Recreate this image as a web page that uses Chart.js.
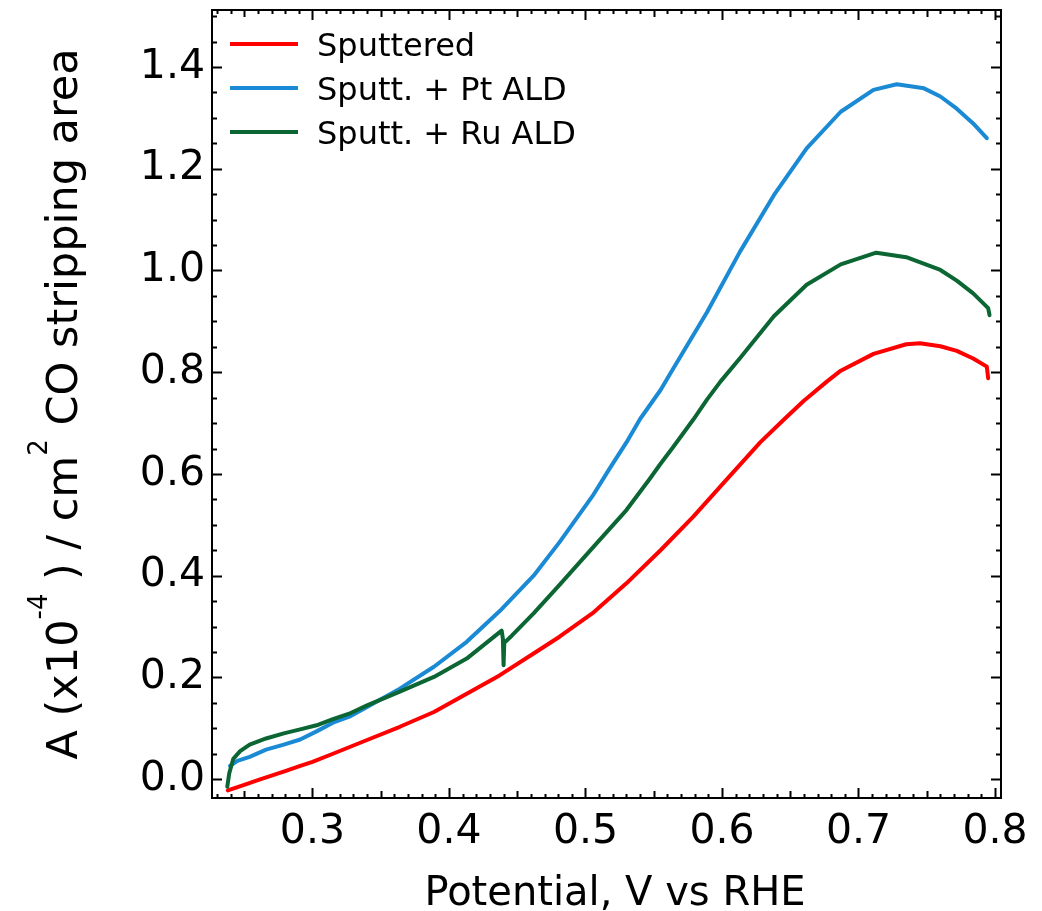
<!DOCTYPE html>
<html>
<head>
<meta charset="utf-8">
<script src="https://cdn.jsdelivr.net/npm/chart.js@4.4.1/dist/chart.umd.min.js"></script>
<style>
  html, body { margin: 0; padding: 0; background: #fff; }
  #wrap { width: 1042px; height: 911px; }
</style>
</head>
<body>
<div id="wrap"><canvas id="grafico"></canvas></div>
<script>
// CO stripping area vs potential

// Sputtered
const sputX = [0.238, 0.25, 0.26, 0.27, 0.28, 0.29, 0.30, 0.315, 0.34, 0.364, 0.389, 0.413, 0.437, 0.462, 0.481, 0.506, 0.530, 0.555, 0.579, 0.603, 0.628, 0.645, 0.66, 0.677, 0.687, 0.711, 0.735, 0.745, 0.760, 0.772, 0.784, 0.794, 0.795];
const sputY = [-0.022, -0.011, -0.002, 0.007, 0.016, 0.025, 0.034, 0.050, 0.077, 0.103, 0.132, 0.168, 0.204, 0.247, 0.280, 0.328, 0.385, 0.450, 0.516, 0.588, 0.662, 0.706, 0.744, 0.782, 0.803, 0.836, 0.855, 0.857, 0.851, 0.842, 0.827, 0.811, 0.788];

// Sputt. + Pt ALD
const ptX = [0.2396, 0.245, 0.254, 0.266, 0.279, 0.291, 0.303, 0.315, 0.328, 0.340, 0.364, 0.389, 0.413, 0.437, 0.462, 0.481, 0.506, 0.518, 0.530, 0.540, 0.555, 0.564, 0.589, 0.613, 0.638, 0.662, 0.687, 0.711, 0.728, 0.748, 0.760, 0.772, 0.784, 0.794];
const ptY = [0.026, 0.036, 0.044, 0.058, 0.068, 0.078, 0.094, 0.111, 0.124, 0.142, 0.178, 0.221, 0.270, 0.330, 0.400, 0.466, 0.560, 0.612, 0.662, 0.708, 0.765, 0.806, 0.918, 1.036, 1.148, 1.240, 1.312, 1.355, 1.366, 1.358, 1.342, 1.318, 1.289, 1.260];

// Sputt. + Ru ALD
const ruX = [0.2376, 0.239, 0.242, 0.247, 0.254, 0.266, 0.279, 0.291, 0.303, 0.315, 0.328, 0.340, 0.364, 0.389, 0.413, 0.4386, 0.4395, 0.4400, 0.4405, 0.446, 0.462, 0.481, 0.506, 0.530, 0.547, 0.555, 0.564, 0.579, 0.589, 0.599, 0.613, 0.638, 0.662, 0.687, 0.713, 0.735, 0.760, 0.772, 0.784, 0.795, 0.796];
const ruY = [-0.015, 0.011, 0.040, 0.055, 0.068, 0.080, 0.090, 0.098, 0.106, 0.118, 0.130, 0.145, 0.172, 0.201, 0.237, 0.292, 0.276, 0.224, 0.268, 0.282, 0.326, 0.382, 0.457, 0.529, 0.590, 0.620, 0.652, 0.707, 0.746, 0.782, 0.827, 0.910, 0.972, 1.012, 1.035, 1.026, 1.001, 0.980, 0.955, 0.926, 0.912];

const nomes = ["Sputtered", "Sputt. + Pt ALD", "Sputt. + Ru ALD"];
const cores = ["#ff0000", "#1a8ad4", "#0b6634"];

const xTicks = [0.3, 0.4, 0.5, 0.6, 0.7, 0.8];
const xTickLabels = ["0.3", "0.4", "0.5", "0.6", "0.7", "0.8"];
const yTicks = [0, 0.2, 0.4, 0.6, 0.8, 1.0, 1.2, 1.4];
const yTickLabels = ["0.0", "0.2", "0.4", "0.6", "0.8", "1.0", "1.2", "1.4"];
const xMin = 0.2264, xMax = 0.8044;
const yMin = -0.037, yMax = 1.512;
const xMinorStep = 0.01;
const yMinorStep = 0.05;

const FONTE = "'DejaVu Sans', sans-serif";

const pontos = (xs, ys) => xs.map((x, i) => ({ x: x, y: ys[i] }));

// moldura com ticks para dentro
const moldura = {
    id: "moldura",
    afterDatasetsDraw(chart) {
        const { ctx, chartArea: a } = chart;
        const sx = chart.scales.x, sy = chart.scales.y;
        ctx.save();
        ctx.strokeStyle = "#000";
        ctx.lineWidth = 2;
        ctx.strokeRect(a.left, a.top, a.right - a.left, a.bottom - a.top);
        ctx.beginPath();
        const i0 = Math.ceil(xMin / xMinorStep), i1 = Math.floor(xMax / xMinorStep);
        for (let i = i0; i <= i1; i++) {
            const px = Math.round(sx.getPixelForValue(i * xMinorStep)) + 0.5;
            const len = i % 10 === 0 ? 10 : (i % 5 === 0 ? 7 : 4);
            ctx.moveTo(px, a.bottom); ctx.lineTo(px, a.bottom - len);
            ctx.moveTo(px, a.top); ctx.lineTo(px, a.top + len);
        }
        const j0 = Math.ceil(yMin / yMinorStep), j1 = Math.floor(yMax / yMinorStep);
        for (let j = j0; j <= j1; j++) {
            const py = Math.round(sy.getPixelForValue(j * yMinorStep)) + 0.5;
            const len = j % 4 === 0 ? 10 : 5;
            ctx.moveTo(a.left, py); ctx.lineTo(a.left + len, py);
            ctx.moveTo(a.right, py); ctx.lineTo(a.right - len, py);
        }
        ctx.stroke();
        ctx.restore();
    }
};

// legenda dentro da área do gráfico
const legenda = {
    id: "legenda",
    afterDraw(chart) {
        const { ctx } = chart;
        ctx.save();
        ctx.font = "32px " + FONTE;
        ctx.fillStyle = "#000";
        ctx.textAlign = "left";
        ctx.textBaseline = "alphabetic";
        nomes.forEach((n, i) => {
            const y = 44 + i * 44;
            ctx.strokeStyle = cores[i];
            ctx.lineWidth = 4;
            ctx.beginPath();
            ctx.moveTo(230, y); ctx.lineTo(298, y);
            ctx.stroke();
            ctx.fillText(n, 317, y + 12);
        });
        ctx.restore();
    }
};

// títulos dos eixos (com sobrescritos)
const titulos = {
    id: "titulos",
    afterDraw(chart) {
        const { ctx, chartArea: a } = chart;
        ctx.save();
        ctx.fillStyle = "#000";
        ctx.font = "40px " + FONTE;
        ctx.textAlign = "center";
        ctx.textBaseline = "alphabetic";
        ctx.fillText("Potential, V vs RHE", 615, 905);

        // eixo y: texto girado
        const partes = [
            { t: "A (x10", sup: false },
            { t: "-4", sup: true },
            { t: " ) / cm", sup: false },
            { t: "2", sup: true },
            { t: " CO stripping area", sup: false }
        ];
        const fN = "43px " + FONTE, fS = "26px " + FONTE;
        let total = 0;
        partes.forEach(p => { ctx.font = p.sup ? fS : fN; p.w = ctx.measureText(p.t).width; total += p.w; });
        ctx.translate(77, (a.top + a.bottom) / 2);
        ctx.rotate(-Math.PI / 2);
        ctx.textAlign = "left";
        let x = -total / 2;
        partes.forEach(p => {
            ctx.font = p.sup ? fS : fN;
            ctx.fillText(p.t, x, p.sup ? -30 : 0);
            x += p.w;
        });
        ctx.restore();
    }
};

new Chart(document.getElementById("grafico"), {
    type: "line",
    data: {
        datasets: [
            { label: nomes[0], data: pontos(sputX, sputY), borderColor: cores[0], order: 2 },
            { label: nomes[1], data: pontos(ptX, ptY), borderColor: cores[1], order: 1 },
            { label: nomes[2], data: pontos(ruX, ruY), borderColor: cores[2], order: 0 }
        ]
    },
    options: {
        responsive: true, maintainAspectRatio: false,
        animation: false,
        layout: { padding: { top: 10, right: 41, left: 0, bottom: 0 } },
        elements: {
            line: { borderWidth: 4, tension: 0, fill: false, borderJoinStyle: "round", borderCapStyle: "round" },
            point: { radius: 0, hoverRadius: 0 }
        },
        plugins: { legend: { display: false }, tooltip: { enabled: false } },
        scales: {
            x: {
                type: "linear", min: xMin, max: xMax,
                afterBuildTicks: s => { s.ticks = xTicks.map(v => ({ value: v })); },
                afterFit: s => { s.height = 113; s.paddingLeft = 0; s.paddingRight = 0; },
                ticks: {
                    color: "#000", font: { family: FONTE, size: 41 }, padding: 10,
                    maxRotation: 0, autoSkip: false,
                    callback: v => { const k = xTicks.findIndex(t => Math.abs(t - v) < 1e-6); return k >= 0 ? xTickLabels[k] : ""; }
                },
                grid: { display: false, drawTicks: false },
                border: { display: false }
            },
            y: {
                type: "linear", min: yMin, max: yMax,
                afterBuildTicks: s => { s.ticks = yTicks.map(v => ({ value: v })); },
                afterFit: s => { s.width = 212; s.paddingTop = 0; s.paddingBottom = 0; },
                ticks: {
                    color: "#000", font: { family: FONTE, size: 41 }, padding: 7,
                    autoSkip: false,
                    callback: v => { const k = yTicks.findIndex(t => Math.abs(t - v) < 1e-6); return k >= 0 ? yTickLabels[k] : ""; }
                },
                grid: { display: false, drawTicks: false },
                border: { display: false }
            }
        }
    },
    plugins: [moldura, legenda, titulos]
});
</script>
</body>
</html>
